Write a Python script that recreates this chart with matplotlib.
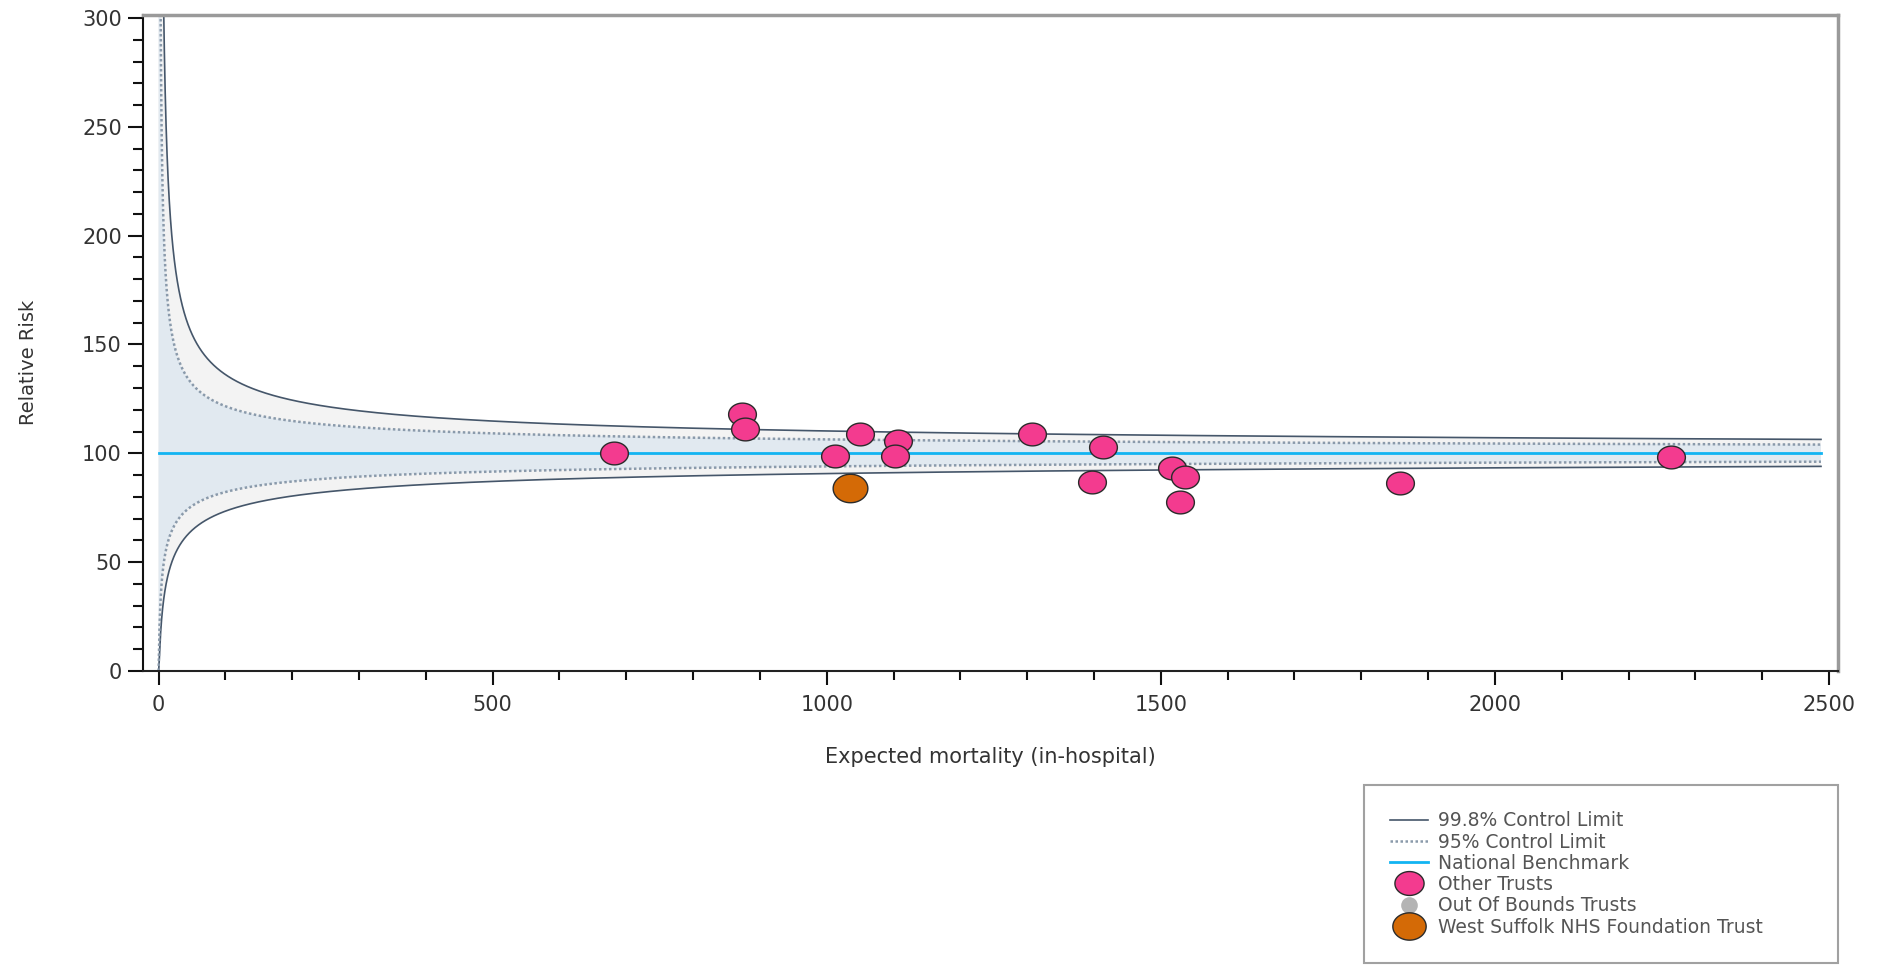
import numpy as np
import matplotlib
matplotlib.use("Agg")
import matplotlib.pyplot as plt
from matplotlib.path import Path
from matplotlib.lines import Line2D
from matplotlib.ticker import MultipleLocator

# trusts: expected deaths vs relative risk
other_expected = [681, 873, 877, 1013, 1050, 1106, 1102, 1307, 1414, 1397, 1516, 1536, 1529, 1858, 2263]
other_rr = [100.0, 118.1, 111.0, 98.9, 108.7, 105.7, 98.9, 108.9, 102.9, 87.0, 93.4, 89.0, 77.8, 86.4, 98.3]
trust_expected = [1035]
trust_rr = [84.2]
trust_name = "West Suffolk NHS Foundation Trust"

benchmark = 100
z_998 = 3.09
z_95 = 1.96
e_max = 2488

pink = "#f33b8f"
orange = "#d46a06"
c998 = "#45566a"
c95 = "#8a9aab"
cbench = "#12b4f2"

# funnel control limits, log scale around the benchmark
E = np.geomspace(0.05, e_max, 3000)
up998 = benchmark * np.exp(z_998 / np.sqrt(E))
lo998 = benchmark * np.exp(-z_998 / np.sqrt(E))
up95 = benchmark * np.exp(z_95 / np.sqrt(E))
lo95 = benchmark * np.exp(-z_95 / np.sqrt(E))

# slightly wide ellipse marker
t = np.linspace(0, 2 * np.pi, 60)
ell = Path(np.column_stack([1.22 * np.cos(t), np.sin(t)]), closed=True)

fig = plt.figure(figsize=(18.84, 9.65), dpi=100)
ax = fig.add_axes([0.0757, 0.3047, 0.8999, 0.6798])

ax.fill_between(E, lo998, up998, color="#f3f3f3", lw=0, zorder=1)
ax.fill_between(E, lo95, up95, color="#e1e9f0", lw=0, zorder=1.1)
ax.plot(E, up998, color=c998, lw=1.2, zorder=2)
ax.plot(E, lo998, color=c998, lw=1.2, zorder=2)
ax.plot(E, up95, color=c95, lw=1.8, ls=(0, (1, 1)), zorder=2)
ax.plot(E, lo95, color=c95, lw=1.8, ls=(0, (1, 1)), zorder=2)
ax.plot([0, e_max], [benchmark, benchmark], color=cbench, lw=2, zorder=3)

ax.plot(other_expected, other_rr, ls="none", marker=ell, ms=20, mfc=pink,
        mec="#2b2b2b", mew=1, zorder=4)
ax.plot(trust_expected, trust_rr, ls="none", marker=ell, ms=25, mfc=orange,
        mec="#2b2b2b", mew=1, zorder=5)

ax.set_xlim(-23.8, 2513.5)
ax.set_ylim(0, 301.4)
ax.xaxis.set_major_locator(MultipleLocator(500))
ax.xaxis.set_minor_locator(MultipleLocator(100))
ax.yaxis.set_major_locator(MultipleLocator(50))
ax.yaxis.set_minor_locator(MultipleLocator(10))
ax.tick_params(axis="both", which="both", direction="out", colors="#111111",
               labelcolor="#333333", labelsize=15, width=1.5)
ax.tick_params(axis="y", which="major", length=11, pad=4)
ax.tick_params(axis="y", which="minor", length=7)
ax.tick_params(axis="x", which="major", length=10, pad=7)
ax.tick_params(axis="x", which="minor", length=6.5)

ax.spines["left"].set_color("#111111")
ax.spines["left"].set_linewidth(1.5)
ax.spines["bottom"].set_color("#222222")
ax.spines["bottom"].set_linewidth(1.5)
for s in ("top", "right"):
    ax.spines[s].set_color("#9a9a9a")
    ax.spines[s].set_linewidth(2.5)

ax.set_xlabel("Expected mortality (in-hospital)", fontsize=15, color="#333333", labelpad=23)
ax.set_ylabel("Relative Risk", fontsize=14, color="#333333")
ax.yaxis.set_label_coords(-0.062, 0.47)

handles = [
    Line2D([], [], color=c998, lw=1.2),
    Line2D([], [], color=c95, lw=1.8, ls=(0, (1, 1))),
    Line2D([], [], color=cbench, lw=2),
    Line2D([], [], ls="none", marker=ell, ms=21, mfc=pink, mec="#2b2b2b", mew=1),
    Line2D([], [], ls="none", marker="o", ms=12, mfc="#b4b4b4", mec="none"),
    Line2D([], [], ls="none", marker=ell, ms=24, mfc=orange, mec="#2b2b2b", mew=1),
]
labels = ["99.8% Control Limit", "95% Control Limit", "National Benchmark",
          "Other Trusts", "Out Of Bounds Trusts", trust_name]
leg = fig.legend(handles, labels, loc="upper left",
                 bbox_to_anchor=(0.724, 0.0, 0.2516, 0.1865), mode="expand",
                 fontsize=13.5, labelcolor="#555555", frameon=True, fancybox=False,
                 borderpad=1.4, labelspacing=0.12, handlelength=2.0,
                 handletextpad=0.55, borderaxespad=0)
leg.get_frame().set_edgecolor("#8a8a8a")
leg.get_frame().set_linewidth(1.5)

fig.savefig("out.png", dpi=100)
